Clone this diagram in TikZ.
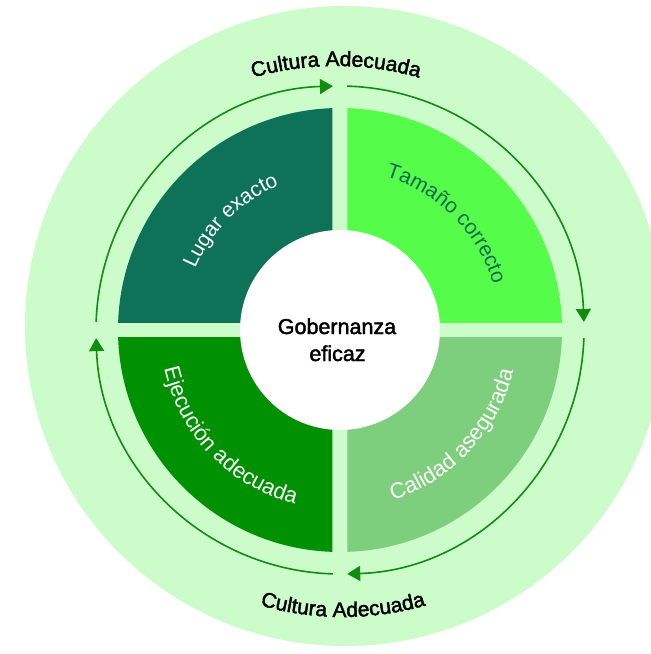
\documentclass[tikz,border=0pt]{standalone}
\usepackage{fontspec}
\setmainfont{Liberation Sans}
\newfontfamily\medfont[FakeBold=2]{Liberation Sans}
\usetikzlibrary{arrows.meta,decorations.text}
\definecolor{bglight}{HTML}{CCFCCA}
\definecolor{qtl}{HTML}{0E7259}
\definecolor{qtr}{HTML}{55FD4A}
\definecolor{qbl}{HTML}{009103}
\definecolor{qbr}{HTML}{7DCE7D}
\definecolor{arrowgreen}{HTML}{108C10}
\definecolor{tealtext}{HTML}{0D6A52}
\newcommand\lblfont{\fontsize{21}{25}\selectfont}
\newcommand\lblfontb{\fontsize{22}{26}\selectfont}
\newcommand\cultfont{\medfont\fontsize{21}{25}\selectfont}
\begin{document}
\begin{tikzpicture}[x=1pt,y=1pt,
  cyclearrow/.style={draw=arrowgreen, line width=1.6pt, -{Triangle[length=13pt,width=15pt]}},
  centertext/.style={font=\medfont\fontsize{21.5}{27}\selectfont, anchor=base, inner sep=0pt}]
\fill[white] (-340,-324) rectangle (311,330);
\useasboundingbox (-340,-324) rectangle (311,330);
\clip (-340,-324) rectangle (311,330);
% outer light disc
\fill[bglight] (5,4) circle (320);
% quadrants
\begin{scope}\clip (-7.5,7.5) rectangle (-240,240); \fill[qtl] (0,0) circle (222); \end{scope}
\begin{scope}\clip (7.5,7.5) rectangle (240,240); \fill[qtr] (0,0) circle (222); \end{scope}
\begin{scope}\clip (-7.5,-7.5) rectangle (-240,-240); \fill[qbl] (0,0) circle (222); \end{scope}
\begin{scope}\clip (7.5,-7.5) rectangle (240,-240); \fill[qbr] (0,0) circle (222); \end{scope}
% centre
\fill[white] (0,0) circle (100);
\node[centertext] (gob) at (-3,-4) {Gobernanza};
\node[centertext] (efi) at (-2.5,-31) {eficaz};
% cycle arrows
\draw[cyclearrow] (178.1:244) arc[start angle=178.1, end angle=91.65, radius=244];
\draw[cyclearrow] (88.3:244) arc[start angle=88.3, end angle=1.9, radius=244];
\draw[cyclearrow] (-1.9:244) arc[start angle=-1.9, end angle=-88.3, radius=244];
\draw[cyclearrow] (-91.7:244) arc[start angle=-91.7, end angle=-178.1, radius=244];
% quadrant labels
\path[decorate, decoration={text along path, text align=center,
  text={|\lblfont\color{white}|Lugar exacto}}]
  (172:157) arc[start angle=172, end angle=98, radius=157];
\path[decorate, decoration={text along path, text align=center,
  text={|\lblfont\color{tealtext}|Tamaño correcto}}]
  (82:160) arc[start angle=82, end angle=8, radius=160];
\path[decorate, decoration={text along path, text align=center,
  text={|\lblfontb\color{white}|Calidad asegurada}}]
  (-82:178) arc[start angle=-82, end angle=-4, radius=178];
\path[decorate, decoration={text along path, text align=center,
  text={|\lblfontb\color{white}|Ejecución adecuada}}]
  (-175:180) arc[start angle=-175, end angle=-97, radius=180];
% Cultura Adecuada
\path[shift={(-4,-36)}, decorate, decoration={text along path, text align=center,
  text={|\cultfont\color{black}|Cultura Adecuada}}]
  (125:300) arc[start angle=125, end angle=55, radius=300];
\path[shift={(3,13)}, decorate, decoration={text along path, text align=center,
  text={|\cultfont\color{black}|Cultura Adecuada}}]
  (-125:300) arc[start angle=-125, end angle=-55, radius=300];
\end{tikzpicture}
\end{document}
